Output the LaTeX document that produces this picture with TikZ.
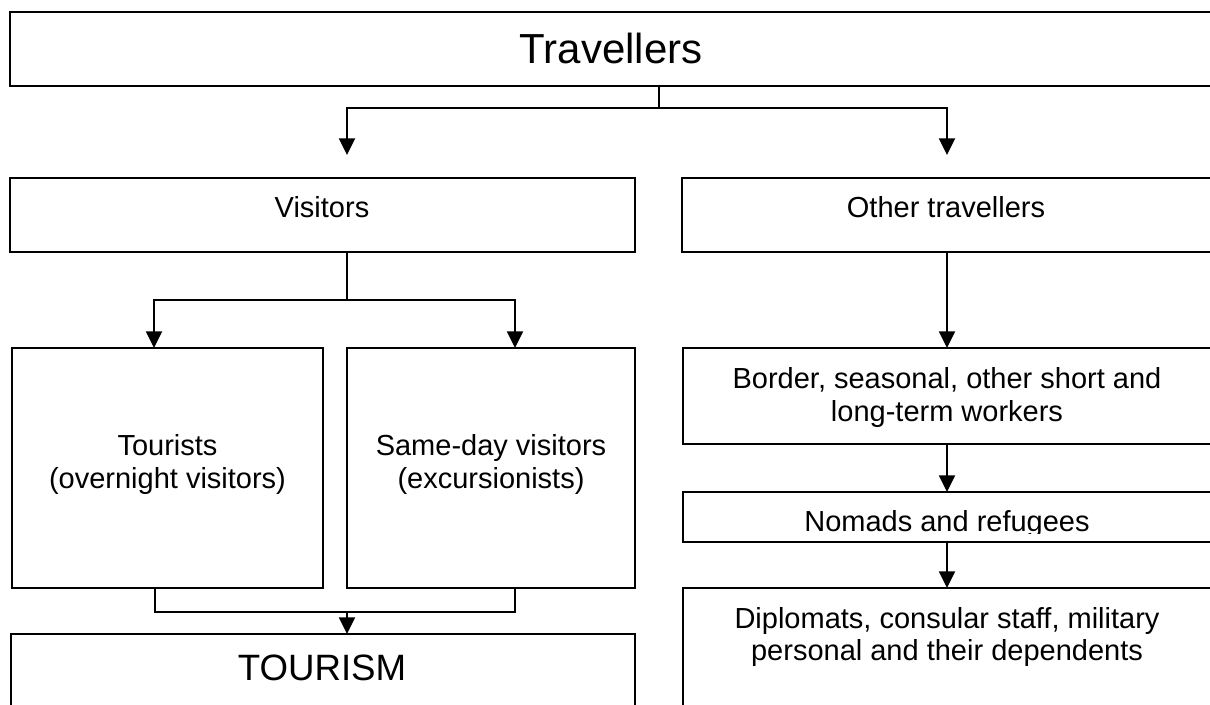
\documentclass[tikz,border=0pt]{standalone}
\usepackage{fontspec}
\setmainfont{Liberation Sans}
\usetikzlibrary{arrows.meta,fit}
\begin{document}
\begin{tikzpicture}[x=0.75pt,y=-0.75pt,
  box/.style={draw=black,line width=1.4pt,inner sep=0pt,outer sep=0pt,rectangle},
  lbl/.style={inner sep=0pt,anchor=base,font=\fontsize{21.75}{25}\selectfont},
  big/.style={inner sep=0pt,anchor=base,font=\fontsize{31.5}{36}\selectfont},
  mid/.style={inner sep=0pt,anchor=base,font=\fontsize{27.5}{32}\selectfont},
  con/.style={line width=1.4pt},
  arr/.style={line width=1.4pt,-{Triangle[length=12.5pt,width=12pt]}}]
\useasboundingbox (0,0) rectangle (1210,704);
% boxes
\node[box,fit={(10,12) (1214,86)}] (trav) {};
\node[box,fit={(10,178) (635,252)}] (vis) {};
\node[box,fit={(682,178) (1214,252)}] (oth) {};
\node[box,fit={(12,348) (323,588)}] (tour) {};
\node[box,fit={(347,348) (635,588)}] (same) {};
\node[box,fit={(11,634) (635,712)}] (tourism) {};
\node[box,fit={(683,348) (1214,444)}] (border) {};
\node[box,fit={(683,492) (1214,542)}] (nomads) {};
\node[box,fit={(683,588) (1214,712)}] (dipl) {};
% texts
\node[big] (travt) at (611,63) {Travellers};
\node[lbl] (vist) at (322,217) {Visitors};
\node[lbl] (otht) at (946,217) {Other travellers};
\node[lbl] (tourt1) at (167.5,455) {Tourists};
\node[lbl] (tourt2) at (167.5,488) {(overnight visitors)};
\node[lbl] (samet1) at (491,455) {Same-day visitors};
\node[lbl] (samet2) at (491,488) {(excursionists)};
\node[mid] (tourismt) at (322,680) {TOURISM};
\node[lbl] (bordert1) at (947,388) {Border, seasonal, other short and};
\node[lbl] (bordert2) at (947,421) {long-term workers};
\begin{scope}
\clip (683,492) rectangle (1214,533);
\node[lbl] (nomadst) at (947,531) {Nomads and refugees};
\end{scope}
\node[lbl] (diplt1) at (947,628) {Diplomats, consular staff, military};
\node[lbl] (diplt2) at (947,660) {personal and their dependents};
% connectors top
\coordinate (j1) at (659,108);
\coordinate (t1) at (347,155);
\coordinate (t2) at (947,155);
\draw[line width=0.8pt] (trav.south -| j1) -- (j1);
\draw[arr] (j1) -| (t1);
\draw[arr] (j1) -| (t2);
% visitors split
\coordinate (j2) at (347,300);
\coordinate (c1) at (154,300);
\coordinate (c2) at (515,300);
\draw[con] (vis.south -| j2) -- (j2);
\draw[arr] (j2) -- (c1) -- (c1 |- tour.north);
\draw[arr] (j2) -- (c2) -- (c2 |- same.north);
% join to tourism
\coordinate (b1) at (155,612);
\coordinate (b2) at (515,612);
\coordinate (b0) at (347,612);
\draw[con] (b1 |- tour.south) -- (b1) -- (b2) -- (b2 |- same.south);
\draw[arr] (b0) -- (b0 |- tourism.north);
% right column
\coordinate (rc) at (947,0);
\draw[arr] (oth.south -| rc) -- (border.north -| rc);
\draw[arr] (border.south -| rc) -- (nomads.north -| rc);
\draw[arr] (nomads.south -| rc) -- (dipl.north -| rc);
\end{tikzpicture}
\end{document}
